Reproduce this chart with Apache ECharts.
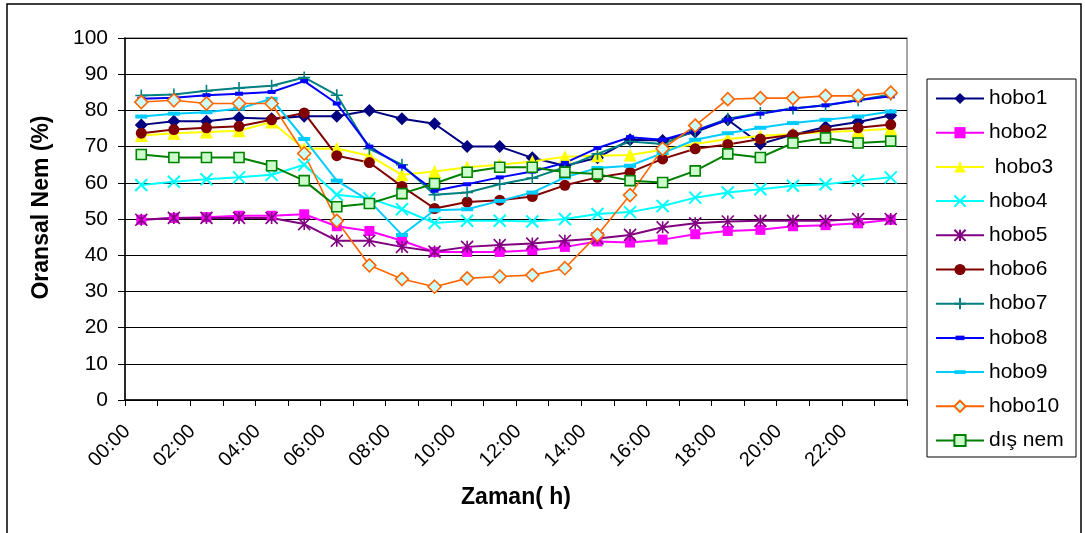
<!DOCTYPE html>
<html>
<head>
<meta charset="utf-8">
<script src="https://cdn.jsdelivr.net/npm/echarts@6/dist/echarts.min.js"></script>
<style>
  html, body { margin: 0; padding: 0; background: #fff; }
  #chart { width: 1085px; height: 533px; }
</style>
</head>
<body>
<div id="chart"></div>
<script>
// Hourly relative humidity (%) per logger
const hours = ['00:00','01:00','02:00','03:00','04:00','05:00','06:00','07:00','08:00','09:00','10:00','11:00',
               '12:00','13:00','14:00','15:00','16:00','17:00','18:00','19:00','20:00','21:00','22:00','23:00'];

const hobo1  = [76.0, 77.0, 77.0, 78.0, 77.7, 78.4, 78.4, 80.0, 77.7, 76.3, 70.0, 70.0, 66.9, 64.7, 66.9, 71.9, 71.7, 74.0, 77.4, 70.7, 73.3, 75.4, 76.8, 78.6];
const hobo2  = [49.8, 50.3, 50.5, 50.9, 50.9, 51.3, 48.0, 46.7, 44.0, 40.9, 40.9, 40.9, 41.4, 42.3, 43.8, 43.5, 44.3, 45.8, 46.7, 47.0, 48.0, 48.3, 48.8, 49.8];
const hobo3  = [73.1, 73.7, 74.0, 74.4, 76.8, 69.4, 69.5, 67.5, 62.2, 63.1, 64.3, 65.0, 65.9, 67.2, 67.5, 67.7, 69.1, 70.7, 72.1, 72.9, 73.5, 74.0, 74.4, 74.9];
const hobo4  = [59.4, 60.3, 61.0, 61.5, 62.2, 65.0, 56.7, 55.7, 52.7, 48.9, 49.5, 49.5, 49.3, 50.0, 51.4, 51.9, 53.6, 55.9, 57.3, 58.2, 59.2, 59.6, 60.6, 61.5];
const hobo5  = [49.8, 50.3, 50.3, 50.3, 50.3, 48.6, 44.0, 44.0, 42.3, 41.0, 42.3, 42.8, 43.2, 44.0, 44.6, 45.6, 47.7, 48.8, 49.3, 49.5, 49.5, 49.5, 50.0, 50.0];
const hobo6  = [73.7, 74.7, 75.2, 75.6, 77.4, 79.3, 67.5, 65.6, 59.0, 52.9, 54.7, 55.2, 56.2, 59.3, 61.5, 62.9, 66.6, 69.4, 70.6, 72.1, 73.3, 74.6, 75.2, 76.1];
const hobo7  = [84.1, 84.4, 85.4, 86.2, 86.8, 89.1, 84.2, 69.4, 65.0, 56.7, 57.3, 59.6, 61.3, 64.3, 68.0, 71.4, 70.7, 74.4, 77.7, 79.3, 80.5, 81.4, 82.8, 84.4];
const hobo8  = [83.2, 83.5, 84.2, 84.6, 85.1, 88.1, 81.9, 70.0, 64.5, 57.8, 59.6, 61.5, 63.1, 65.5, 69.6, 72.6, 71.9, 74.4, 77.4, 79.1, 80.5, 81.4, 82.8, 83.9];
const hobo9  = [78.3, 79.1, 79.5, 80.5, 83.2, 72.1, 60.6, 55.0, 45.6, 52.4, 52.7, 55.0, 57.3, 61.5, 64.1, 64.7, 68.2, 71.9, 73.7, 75.2, 76.5, 77.4, 78.3, 79.7];
const hobo10 = [82.3, 82.8, 81.9, 81.9, 81.9, 68.1, 49.5, 37.2, 33.4, 31.3, 33.6, 34.1, 34.5, 36.4, 45.6, 56.6, 69.4, 75.8, 83.1, 83.4, 83.4, 84.0, 84.0, 84.9];
const disNem = [67.8, 67.0, 67.0, 67.0, 64.7, 60.6, 53.4, 54.3, 57.0, 59.8, 62.9, 64.3, 64.3, 62.9, 62.4, 60.6, 60.1, 63.3, 68.0, 67.0, 71.0, 72.4, 71.0, 71.5];

const yTicks = { min: 0, max: 100, step: 10 };

const FONT = '"Liberation Sans", Arial, sans-serif';

// stroked marker shapes
const X_MARK    = 'path://M0 0L10 10M10 0L0 10';
const STAR_MARK = 'path://M5 0L5 10M0 0L10 10M10 0L0 10';
const PLUS_MARK = 'path://M5 0L5 10M0 5L10 5';
// flat dashes inside a square frame (the bare moves keep the frame square)
const SHORT_DASH = 'path://M0 0M1 3h8v4h-8zM10 10';
const LONG_DASH  = 'path://M0 0M0 4h12v4h-12zM12 12';

function line(name, data, lineColor, symbol, symbolSize, itemStyle, width) {
  return {
    name, type: 'line', data,
    symbol, symbolSize,
    showAllSymbol: true,
    lineStyle: { color: lineColor, width: width || 2 },
    itemStyle: Object.assign({ color: lineColor }, itemStyle || {}),
    emphasis: { disabled: true }
  };
}

const series = [
  line('hobo1', hobo1, '#000080', 'diamond', 13),
  line('hobo2', hobo2, '#FF00FF', 'rect', 10),
  line(' hobo3', hobo3, '#FFFF00', 'triangle', 13),
  line('hobo4', hobo4, '#00FFFF', X_MARK, 12, { color: '#00FFFF', borderColor: '#00FFFF', borderWidth: 2 }),
  line('hobo5', hobo5, '#800080', STAR_MARK, 12, { color: '#800080', borderColor: '#800080', borderWidth: 1.6 }),
  line('hobo6', hobo6, '#800000', 'circle', 11),
  line('hobo7', hobo7, '#008080', PLUS_MARK, 12, { color: '#008080', borderColor: '#008080', borderWidth: 1.6 }),
  line('hobo8', hobo8, '#0000FF', SHORT_DASH, 10),
  line('hobo9', hobo9, '#00CCFF', LONG_DASH, 12),
  line('hobo10', hobo10, '#FF6600', 'diamond', 13, { color: '#CCFFFF', borderColor: '#FF6600', borderWidth: 1.6 }, 1.6),
  line('dış nem', disNem, '#008000', 'rect', 10, { color: '#CCFFCC', borderColor: '#008000', borderWidth: 1.6 })
];

const chart = echarts.init(document.getElementById('chart'), null, { renderer: 'canvas' });

chart.setOption({
  animation: false,
  backgroundColor: '#fff',
  textStyle: { fontFamily: FONT, color: '#000' },
  grid: {
    left: 125, top: 38, width: 782, height: 362,
    show: true, borderColor: '#8c8c8c', borderWidth: 1.5,
    backgroundColor: 'transparent'
  },
  xAxis: {
    type: 'category',
    data: hours,
    boundaryGap: true,
    name: 'Zaman( h)',
    nameLocation: 'middle',
    nameGap: 86,
    nameTextStyle: { fontFamily: FONT, fontWeight: 'bold', fontSize: 23, color: '#000' },
    axisLine: { lineStyle: { color: '#000', width: 1.5 } },
    axisTick: { show: true, interval: 0, length: 6, lineStyle: { color: '#000' } },
    axisLabel: { interval: 1, rotate: 45, fontSize: 20, color: '#000', fontFamily: FONT,
                 margin: 14, padding: [0, 20, 0, 0] },
    splitLine: { show: false }
  },
  yAxis: {
    type: 'value',
    min: yTicks.min, max: yTicks.max, interval: yTicks.step,
    name: 'Oransal Nem (%)',
    nameLocation: 'middle',
    nameGap: 72,
    nameRotate: 90,
    nameTextStyle: { fontFamily: FONT, fontWeight: 'bold', fontSize: 23, color: '#000',
                     padding: [0, 0, 0, 23] },
    axisLine: { show: true, lineStyle: { color: '#000', width: 1.5 } },
    axisTick: { show: true, length: 7, lineStyle: { color: '#000' } },
    axisLabel: { fontSize: 21, color: '#000', fontFamily: FONT, margin: 17 },
    splitLine: { show: true, lineStyle: { color: '#000', width: 1 } }
  },
  legend: {
    orient: 'vertical',
    left: 935, top: 88,
    itemWidth: 48, itemHeight: 14, itemGap: 13.2,
    padding: 0,
    textStyle: { fontFamily: FONT, fontSize: 21, color: '#000' },
    selectedMode: false,
    data: series.map(s => s.name)
  },
  graphic: [
    { type: 'rect', shape: { x: 7, y: 4, width: 1074, height: 540 },
      style: { fill: 'none', stroke: '#000', lineWidth: 1.5 }, silent: true },
    { type: 'rect', shape: { x: 927, y: 79, width: 149, height: 378 },
      style: { fill: 'none', stroke: '#000', lineWidth: 1 }, silent: true }
  ],
  series
});
</script>
</body>
</html>
